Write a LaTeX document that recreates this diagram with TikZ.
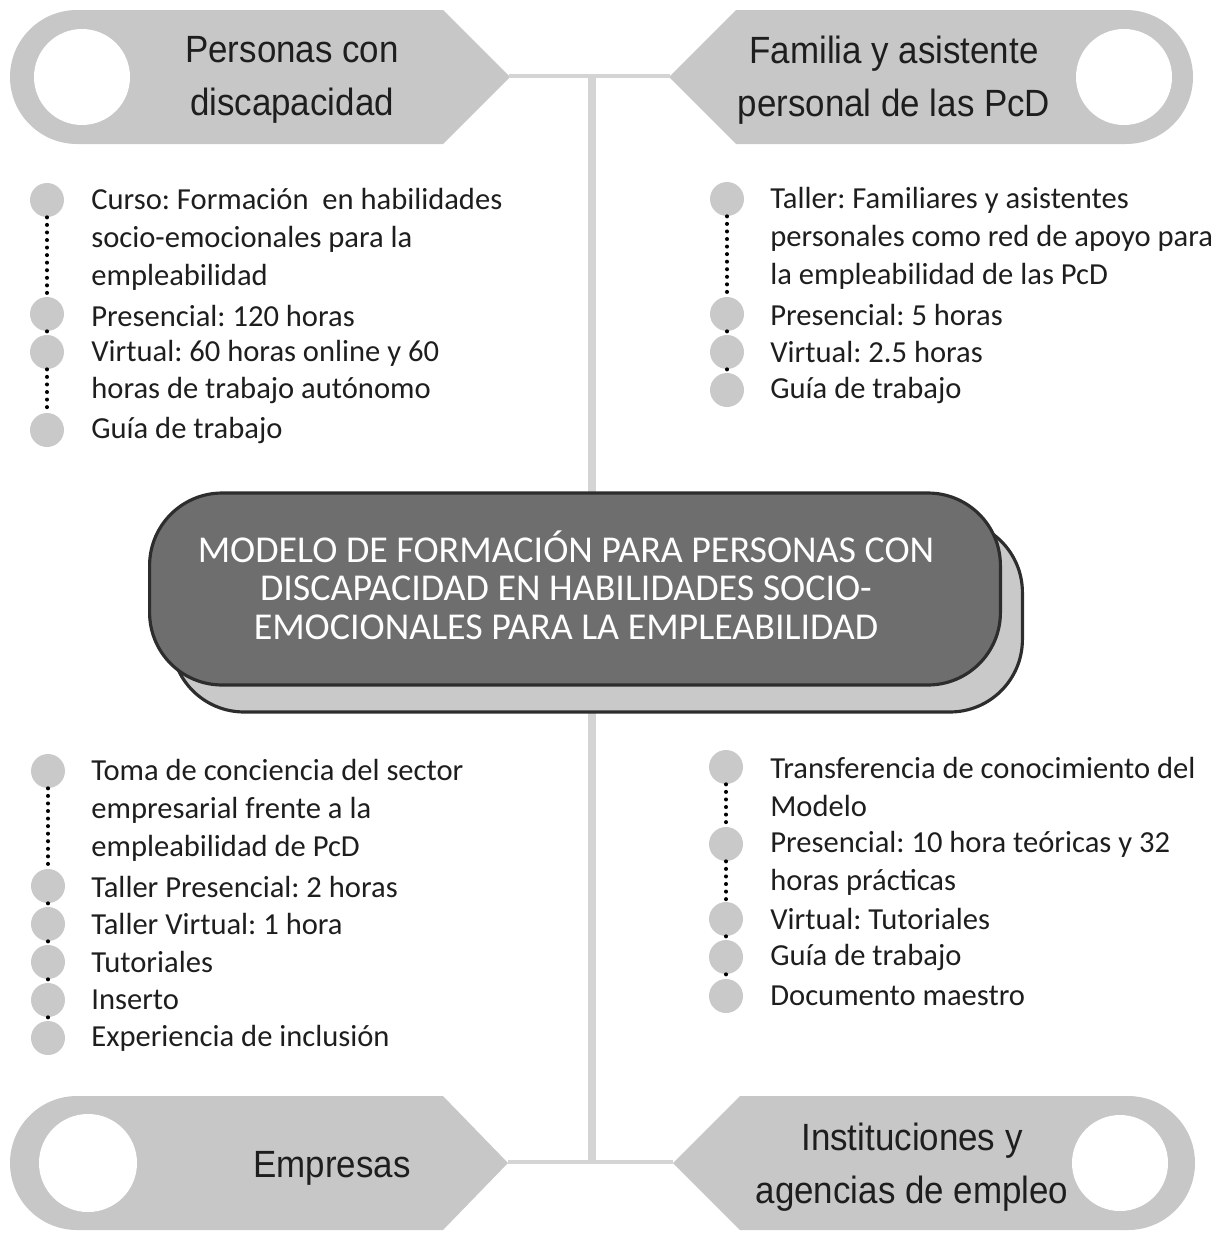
\documentclass[tikz,border=0pt]{standalone}
\usepackage{fontspec}
\setmainfont{Carlito}
\newfontfamily\headfont[FakeStretch=0.92]{Liberation Sans}
\frenchspacing
\definecolor{tagfill}{RGB}{199,199,199}
\definecolor{dotfill}{RGB}{201,201,201}
\definecolor{spinecol}{RGB}{212,212,212}
\definecolor{boxdark}{RGB}{110,110,110}
\definecolor{boxedge}{RGB}{45,45,45}
\definecolor{inktext}{RGB}{30,30,30}
\tikzset{
  head/.style={font=\headfont\fontsize{21.6}{30}\selectfont, text=inktext, align=center},
  item/.style={anchor=west, inner sep=0pt, align=left, text=inktext, font=\fontsize{17.4}{21.55}\selectfont},
  bullet/.style={circle, fill=dotfill, minimum size=0.68cm, inner sep=0pt},
  dotline/.style={line width=2.3pt, line cap=round, dash pattern=on 0pt off 4.3pt, black},
  spine/.style={draw=spinecol, line width=4pt},
  link/.style={draw=spinecol, line width=2.4pt},
  backbox/.style={draw=boxedge, line width=1.8pt, fill=dotfill, rounded corners=1.45cm,
    minimum width=17.02cm, minimum height=3.84cm},
  frontbox/.style={backbox, fill=boxdark},
  boxtext/.style={text=white, align=center, font=\fontsize{21.6}{21.9}\selectfont},
}
\begin{document}
\begin{tikzpicture}[x=0.02cm, y=-0.02cm]
  \useasboundingbox (0,0) rectangle (1223,1234);

  % tags
  \fill[tagfill] (77,77) circle[radius=67];
  \fill[tagfill] (77,10) -- (443,10) -- (510,77) -- (443,144) -- (77,144) -- cycle;
  \fill[white] (82,77) circle[radius=48];
  \fill[tagfill] (1126,77) circle[radius=67];
  \fill[tagfill] (669,77) -- (736,10) -- (1126,10) -- (1126,144) -- (736,144) -- cycle;
  \fill[white] (1124,77) circle[radius=48];
  \fill[tagfill] (77,1163) circle[radius=67];
  \fill[tagfill] (77,1096) -- (443,1096) -- (508,1163) -- (443,1230) -- (77,1230) -- cycle;
  \fill[white] (88,1163) circle[radius=49];
  \fill[tagfill] (1128,1163) circle[radius=67];
  \fill[tagfill] (673,1163) -- (740,1096) -- (1128,1096) -- (1128,1230) -- (740,1230) -- cycle;
  \fill[white] (1120,1163) circle[radius=48];

  \node[head] (hpcd) at (292,80) {Personas con\\discapacidad};
  \node[head] (hfam) at (894,80) {Familia y asistente\\personal de las PcD};
  \node[head] (hemp) at (332,1168) {Empresas};
  \node[head] (hinst) at (912,1167) {Instituciones y\\agencias de empleo};

  % spine
  \coordinate (tl) at (509,76);
  \coordinate (tr) at (670,76);
  \coordinate (st) at (592,76);
  \coordinate (sb) at (592,1162);
  \coordinate (bl) at (508,1162);
  \coordinate (br) at (673,1162);
  \draw[link] (tl) -- (tr);
  \draw[link] (bl) -- (br);
  \draw[spine] (st) -- (sb);

  % model
  \node[backbox] (mback) at (597,616) {};
  \node[frontbox] (mfront) at (575,589) {};
  \node[boxtext] (mtext) at (566,585) {MODELO DE FORMACIÓN PARA PERSONAS CON\\DISCAPACIDAD EN HABILIDADES SOCIO-\\EMOCIONALES PARA LA EMPLEABILIDAD};

  % personas con discapacidad
  \node[bullet] (pa1) at (47,200) {};
  \node[bullet] (pa2) at (47,314) {};
  \node[bullet] (pa3) at (47,352) {};
  \node[bullet] (pa4) at (47,430) {};
  \draw[dotline] (pa1) -- (pa2);
  \draw[dotline] (pa2) -- (pa3);
  \draw[dotline] (pa3) -- (pa4);
  \node[item] (ta1) at (91,239) {Curso: Formación\ \ en habilidades\\socio-emocionales para la\\empleabilidad};
  \node[item] (ta2) at (91,316) {Presencial: 120 horas};
  \node[item] (ta3) at (91,372) {Virtual: 60 horas online y 60\\horas de trabajo autónomo};
  \node[item] (ta4) at (91,430) {Guía de trabajo};

  % familia
  \node[bullet] (pb1) at (727,199) {};
  \node[bullet] (pb2) at (727,314) {};
  \node[bullet] (pb3) at (727,352) {};
  \node[bullet] (pb4) at (727,390) {};
  \draw[dotline] (pb1) -- (pb2);
  \draw[dotline] (pb2) -- (pb3);
  \draw[dotline] (pb3) -- (pb4);
  \node[item] (tb1) at (770,238) {Taller: Familiares y asistentes\\personales como red de apoyo para\\la empleabilidad de las PcD};
  \node[item] (tb2) at (770,315) {Presencial: 5 horas};
  \node[item] (tb3) at (770,352) {Virtual: 2.5 horas};
  \node[item] (tb4) at (770,390) {Guía de trabajo};

  % empresas
  \node[bullet] (pc1) at (48,771) {};
  \node[bullet] (pc2) at (48,886) {};
  \node[bullet] (pc3) at (48,924) {};
  \node[bullet] (pc4) at (48,962) {};
  \node[bullet] (pc5) at (48,1000) {};
  \node[bullet] (pc6) at (48,1038) {};
  \draw[dotline] (pc1) -- (pc2);
  \draw[dotline] (pc2) -- (pc3);
  \draw[dotline] (pc3) -- (pc4);
  \draw[dotline] (pc4) -- (pc5);
  \draw[dotline] (pc5) -- (pc6);
  \node[item] (tc1) at (91,810) {Toma de conciencia del sector\\empresarial frente a la\\empleabilidad de PcD};
  \node[item] (tc2) at (91,887) {Taller Presencial: 2 horas};
  \node[item] (tc3) at (91,924) {Taller Virtual: 1 hora};
  \node[item] (tc4) at (91,962) {Tutoriales};
  \node[item] (tc5) at (91,1000) {Inserto};
  \node[item] (tc6) at (91,1038) {Experiencia de inclusión};

  % instituciones
  \node[bullet] (pd1) at (726,767) {};
  \node[bullet] (pd2) at (726,844) {};
  \node[bullet] (pd3) at (726,919) {};
  \node[bullet] (pd4) at (726,957) {};
  \node[bullet] (pd5) at (726,996) {};
  \draw[dotline] (pd1) -- (pd2);
  \draw[dotline] (pd2) -- (pd3);
  \draw[dotline] (pd3) -- (pd4);
  \draw[dotline] (pd4) -- (pd5);
  \node[item] (td1) at (770,787) {Transferencia de conocimiento del\\Modelo};
  \node[item] (td2) at (770,863) {Presencial: 10 hora teóricas y 32\\horas prácticas};
  \node[item] (td3) at (770,919) {Virtual: Tutoriales};
  \node[item] (td4) at (770,957) {Guía de trabajo};
  \node[item] (td5) at (770,996) {Documento maestro};
\end{tikzpicture}
\end{document}
